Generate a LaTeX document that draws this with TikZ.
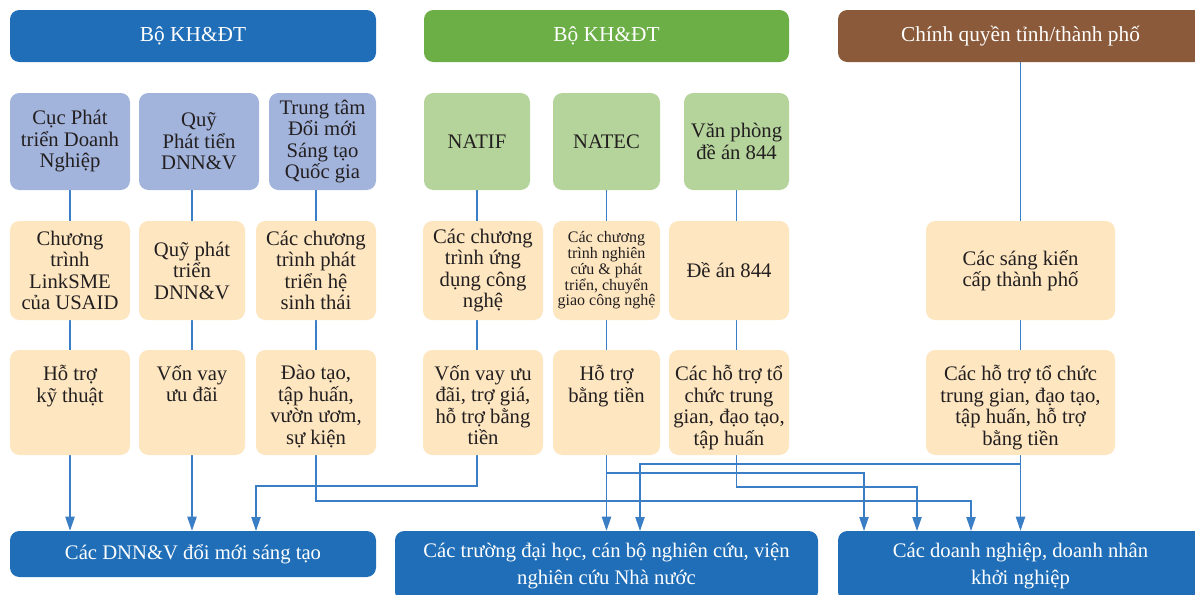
\documentclass[tikz,border=0pt]{standalone}
\usepackage{fontspec}
\setmainfont{Liberation Serif}
\usetikzlibrary{arrows.meta,backgrounds}

\definecolor{navy}{HTML}{1F6EB7}
\definecolor{leaf}{HTML}{6BAF46}
\definecolor{bark}{HTML}{8A5A3A}
\definecolor{lilac}{HTML}{A3B4DC}
\definecolor{sage}{HTML}{B5D49B}
\definecolor{cream}{HTML}{FDE6C0}
\definecolor{wire}{HTML}{3A7EC6}
\definecolor{ink}{HTML}{231F20}

\tikzset{
  box/.style={rounded corners=7pt, inner sep=0pt, align=center, text=ink,
    font=\fontsize{15.5pt}{16.1pt}\selectfont},
  head/.style={box, minimum height=39pt, text=white, font=\fontsize{16pt}{19pt}\selectfont},
  agency/.style={box, fill=lilac, minimum height=72.75pt},
  fund/.style={box, fill=sage, minimum height=72.75pt},
  prog/.style={box, fill=cream, minimum height=74.25pt},
  aid/.style={box, fill=cream, minimum height=78.75pt, label={[aidtext]north:#1}},
  aidtext/.style={anchor=north, inner sep=0pt, yshift=-11.5pt, align=center, text=ink,
    font=\fontsize{15.5pt}{16.1pt}\selectfont, execute at begin node=\rule{0pt}{14pt}},
  target/.style={box, fill=navy, text=white, font=\fontsize{15.5pt}{20pt}\selectfont},
  feed/.style={draw=wire, line width=0.9pt, -{Triangle[length=10.5pt,width=7pt]}},
}

\begin{document}
\begin{tikzpicture}[x=0.75pt,y=-0.75pt]
  \useasboundingbox (0,0) rectangle (1195,594);
  \clip (0,0) rectangle (1195,594);

  % ministries and city
  \node[head, fill=navy, minimum width=274.5pt] (bo1) at (193,36) {Bộ KH\&ĐT};
  \node[head, fill=leaf, minimum width=273.75pt] (bo2) at (606.5,36) {Bộ KH\&ĐT};
  \node[head, fill=bark, minimum width=273.75pt] (cq) at (1020.5,36) {Chính quyền tỉnh/thành phố};

  % agencies
  \node[agency, minimum width=90pt] (cuc) at (70,141.5) {Cục Phát\\triển Doanh\\Nghiệp};
  \node[agency, minimum width=90pt] (quy) at (199,141.5) {Quỹ\\Phát tiển\\DNN\&V};
  \node[agency, minimum width=80.25pt] (ttdm) at (322.5,141.5) {Trung tâm\\Đổi mới\\Sáng tạo\\Quốc gia};
  \node[fund, minimum width=79.5pt] (natif) at (477,141.5) {NATIF};
  \node[fund, minimum width=80.25pt] (natec) at (606.5,141.5) {NATEC};
  \node[fund, minimum width=78.75pt] (vp) at (736.5,141.5) {Văn phòng\\đề án 844};

  % programmes
  \node[prog, minimum width=90pt] (linksme) at (70,270.5) {Chương\\trình\\LinkSME\\của USAID};
  \node[prog, minimum width=79.5pt] (qpt) at (192,270.5) {Quỹ phát\\triển\\DNN\&V};
  \node[prog, minimum width=90pt] (ctpt) at (316,270.5) {Các chương\\trình phát\\triển hệ\\sinh thái};
  \node[prog, minimum width=90pt] (udcn) at (483,270.5) {Các chương\\trình ứng\\dụng công\\nghệ};
  \node[prog, minimum width=80.25pt, font=\fontsize{12pt}{11.8pt}\selectfont] (nccg) at (606.5,270.5)
    {Các chương\\trình nghiên\\cứu \& phát\\triển, chuyển\\giao công nghệ};
  \node[prog, minimum width=90pt] (dean) at (729,270.5) {Đề án 844};
  \node[prog, minimum width=141.75pt] (sk) at (1020.5,270.5) {Các sáng kiến\\cấp thành phố};

  % support
  \node[aid={Hỗ trợ\\kỹ thuật}, minimum width=90pt] (kt) at (70,402.5) {};
  \node[aid={Vốn vay\\ưu đãi}, minimum width=79.5pt] (vvud) at (192,402.5) {};
  \node[aid={Đào tạo,\\tập huấn,\\vườn ươm,\\sự kiện}, minimum width=90pt] (daotao) at (316,402.5) {};
  \node[aid={Vốn vay ưu\\đãi, trợ giá,\\hỗ trợ bằng\\tiền}, minimum width=90pt] (vvtg) at (483,402.5) {};
  \node[aid={Hỗ trợ\\bằng tiền}, minimum width=80.25pt] (htbt) at (606.5,402.5) {};
  \node[aid={Các hỗ trợ tổ\\chức trung\\gian, đạo tạo,\\tập huấn}, minimum width=90pt] (tctg) at (729,402.5) {};
  \node[aid={Các hỗ trợ tổ chức\\trung gian, đạo tạo,\\tập huấn, hỗ trợ\\bằng tiền}, minimum width=141.75pt] (tp) at (1020.5,402.5) {};

  % beneficiaries
  \node[target, minimum width=274.5pt, minimum height=34.5pt] (dnn) at (193,554) {Các DNN\&V đổi mới sáng tạo};
  \node[target, minimum width=317.25pt, minimum height=52.5pt] (vien) at (606.5,566)
    {Các trường đại học, cán bộ nghiên cứu, viện\\nghiên cứu Nhà nước};
  \node[target, minimum width=273.75pt, minimum height=52.5pt] (dn) at (1020.5,566)
    {Các doanh nghiệp, doanh nhân\\khởi nghiệp};

  \coordinate (dnn3) at (256,531);
  \coordinate (vien2) at (640,531);
  \coordinate (dn1) at (864,531);
  \coordinate (dn2) at (917,531);
  \coordinate (dn3) at (971,531);

  \begin{scope}[on background layer]
    \draw[feed] (cuc.south) -- (cuc.south |- dnn.north);
    \draw[feed] (qpt.north |- quy.south) -- (qpt.north |- dnn.north);
    \draw[feed] (ctpt.north |- ttdm.south) -- (ctpt.north |- 0,501) -| (dn3);
    \draw[feed] (natif.south) -- (natif.south |- 0,486) -| (dnn3);
    \draw[feed] (natec.south) -- (natec.south |- vien.north);
    \draw[feed] (natec.south |- 0,473) -| (dn1);
    \draw[feed] (vp.south) -- (vp.south |- 0,487) -| (dn2);
    \draw[feed] (cq.south) -- (cq.south |- dn.north);
    \draw[feed] (cq.south |- 0,464) -| (vien2);
  \end{scope}
\end{tikzpicture}
\end{document}
